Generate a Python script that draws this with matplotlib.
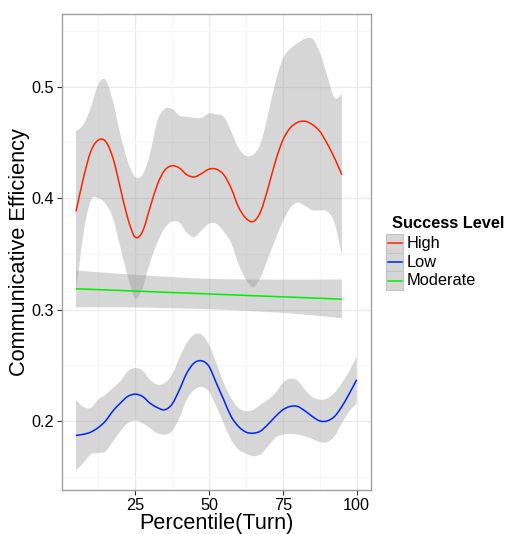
import matplotlib
matplotlib.use("Agg")
import matplotlib.pyplot as plt
from matplotlib.patches import Rectangle, PathPatch
from matplotlib.lines import Line2D
from matplotlib.path import Path

plt.rcParams['font.family'] = ['Liberation Sans', 'DejaVu Sans']

# percentile grid used for the smoothed curves
pct = [5, 7.5, 10, 12.5, 15, 17.5, 20, 22.5, 25, 27.5, 30, 32.5, 35, 37.5, 40,
       42.5, 45, 47.5, 50, 52.5, 55, 57.5, 60, 62.5, 65, 67.5, 70, 72.5, 75,
       77.5, 80, 82.5, 85, 87.5, 90, 92.5, 95]
pct_low = pct + [97.5, 100]

high_fit = [0.388, 0.418, 0.442, 0.452, 0.451, 0.436, 0.409, 0.382, 0.365, 0.370,
            0.391, 0.412, 0.425, 0.429, 0.427, 0.421, 0.419, 0.422, 0.426, 0.426,
            0.421, 0.409, 0.392, 0.382, 0.379, 0.388, 0.409, 0.433, 0.452, 0.463,
            0.468, 0.469, 0.466, 0.460, 0.449, 0.436, 0.421]
high_up = [0.460, 0.466, 0.481, 0.502, 0.506, 0.487, 0.457, 0.433, 0.419, 0.421,
           0.439, 0.469, 0.480, 0.480, 0.474, 0.473, 0.472, 0.472, 0.476, 0.475,
           0.473, 0.460, 0.445, 0.438, 0.439, 0.449, 0.475, 0.504, 0.525, 0.534,
           0.539, 0.543, 0.543, 0.531, 0.510, 0.490, 0.493]
high_lo = [0.316, 0.368, 0.398, 0.400, 0.395, 0.382, 0.356, 0.330, 0.310, 0.319,
           0.342, 0.360, 0.373, 0.379, 0.378, 0.369, 0.365, 0.371, 0.377, 0.377,
           0.370, 0.360, 0.341, 0.327, 0.320, 0.329, 0.346, 0.363, 0.379, 0.391,
           0.396, 0.393, 0.389, 0.389, 0.388, 0.378, 0.349]

low_fit = [0.187, 0.188, 0.190, 0.194, 0.200, 0.209, 0.216, 0.222, 0.224, 0.222,
           0.216, 0.212, 0.210, 0.215, 0.228, 0.243, 0.252, 0.254, 0.249, 0.234,
           0.219, 0.204, 0.195, 0.190, 0.189, 0.191, 0.197, 0.204, 0.210, 0.213,
           0.213, 0.209, 0.204, 0.200, 0.200, 0.204, 0.213, 0.2245, 0.237]
low_up = [0.2185, 0.2126, 0.2117, 0.219, 0.2236, 0.2296, 0.2355, 0.2445, 0.2475, 0.2454,
          0.237, 0.2326, 0.234, 0.2415, 0.2565, 0.270, 0.2775, 0.2775, 0.2685, 0.252,
          0.234, 0.2206, 0.2117, 0.2087, 0.210, 0.2146, 0.219, 0.225, 0.234, 0.238,
          0.236, 0.228, 0.2215, 0.219, 0.220, 0.225, 0.234, 0.2445, 0.258]
low_lo = [0.1557, 0.1623, 0.170, 0.1713, 0.1727, 0.1817, 0.1907, 0.198, 0.2003, 0.198,
          0.1937, 0.189, 0.1877, 0.1907, 0.2027, 0.219, 0.228, 0.2305, 0.2265, 0.213,
          0.198, 0.183, 0.1743, 0.1707, 0.1683, 0.170, 0.1772, 0.1848, 0.1877, 0.1883,
          0.1877, 0.1862, 0.1839, 0.181, 0.181, 0.1862, 0.198, 0.2087, 0.2155]

pct_mod = [5, 20, 35, 50, 65, 80, 95]
mod_fit = [0.3186, 0.3171, 0.3155, 0.3140, 0.3124, 0.3109, 0.3093]
mod_up = [0.3350, 0.3320, 0.3295, 0.3275, 0.3270, 0.3268, 0.3270]
mod_lo = [0.3020, 0.3020, 0.3013, 0.3003, 0.2985, 0.2960, 0.2923]

levels = ["High", "Low", "Moderate"]
colors = {"High": "#ff2200", "Low": "#0022ff", "Moderate": "#00ee00"}

x_ticks = [25, 50, 75, 100]
y_ticks = [0.2, 0.3, 0.4, 0.5]


def smooth_path(xs, ys, start=True):
    # Catmull-Rom style bezier through the read points
    pts = list(zip(xs, ys))
    n = len(pts)
    verts = [pts[0]] if start else []
    codes = [Path.MOVETO] if start else []
    for i in range(n - 1):
        p0 = pts[max(i - 1, 0)]
        p1 = pts[i]
        p2 = pts[i + 1]
        p3 = pts[min(i + 2, n - 1)]
        c1 = (p1[0] + (p2[0] - p0[0]) / 6, p1[1] + (p2[1] - p0[1]) / 6)
        c2 = (p2[0] - (p3[0] - p1[0]) / 6, p2[1] - (p3[1] - p1[1]) / 6)
        verts += [c1, c2, p2]
        codes += [Path.CURVE4] * 3
    return verts, codes


fig = plt.figure(figsize=(5.1, 5.34), dpi=100)
W, H = 510, 534
ax = fig.add_axes([62 / W, 1 - 490 / H, 308.7 / W, 475.7 / H])

series = {
    "High": (pct, high_fit, high_up, high_lo),
    "Low": (pct_low, low_fit, low_up, low_lo),
    "Moderate": (pct_mod, mod_fit, mod_up, mod_lo),
}
for name in levels:
    xs, fit, up, lo = series[name]
    v1, c1 = smooth_path(xs, up)
    v2, c2 = smooth_path(xs[::-1], lo[::-1])
    c2[0] = Path.LINETO
    verts = v1 + v2 + [v1[0]]
    codes = c1 + c2 + [Path.CLOSEPOLY]
    ax.add_patch(PathPatch(Path(verts, codes), facecolor="#999999", alpha=0.4,
                           lw=0, zorder=2))
for name in levels:
    xs, fit, up, lo = series[name]
    v, c = smooth_path(xs, fit)
    ax.add_patch(PathPatch(Path(v, c), facecolor="none", edgecolor=colors[name],
                           lw=1.1, zorder=3))

ax.set_xlim(0.25, 104.75)
ax.set_ylim(0.138, 0.565)
ax.set_xticks(x_ticks)
ax.set_yticks(y_ticks)
ax.set_xticks([12.5, 37.5, 62.5, 87.5], minor=True)
ax.set_yticks([0.15, 0.25, 0.35, 0.45, 0.55], minor=True)
ax.set_yticklabels([str(v) for v in y_ticks])
ax.grid(which="major", color="#ebebeb", lw=0.9, zorder=0)
ax.grid(which="minor", color="#f7f7f7", lw=0.9, zorder=0)
ax.set_axisbelow(True)
ax.tick_params(which="major", length=3.5, width=0.8, color="#333333",
               labelsize=11.7, labelcolor="black", pad=2.5)
ax.tick_params(which="minor", length=0)
for s in ax.spines.values():
    s.set_color("#a0a0a0")
    s.set_linewidth(1.0)

ax.set_xlabel("Percentile(Turn)", fontsize=15.6)
ax.set_ylabel("Communicative Efficiency", fontsize=15.7)
ax.xaxis.set_label_coords(0.5, -34 / 475.7)
ax.xaxis.label.set_va("center")
ax.yaxis.set_label_coords(-42 / 308.7, 0.5)
ax.yaxis.label.set_va("center")

# legend drawn by hand in pixel positions
fig.text(391.5 / W, 1 - 224 / H, "Success Level", fontsize=11.8,
         fontweight="bold", va="center", ha="left")
key_top = 234
key_h = 18.7
for i, name in enumerate(levels):
    y0 = key_top + i * key_h
    fig.add_artist(Rectangle((386 / W, 1 - (y0 + key_h) / H), 17.3 / W, key_h / H,
                             transform=fig.transFigure, facecolor="#d6d6d6",
                             edgecolor="#c4c4c4", lw=0.8))
    yc = 1 - (y0 + key_h / 2) / H
    fig.add_artist(Line2D([388 / W, 402 / W], [yc, yc], transform=fig.transFigure,
                          color=colors[name], lw=1.1))
    fig.text(407 / W, yc, name, fontsize=11.8, va="center", ha="left")

fig.savefig("out.png", dpi=100)
